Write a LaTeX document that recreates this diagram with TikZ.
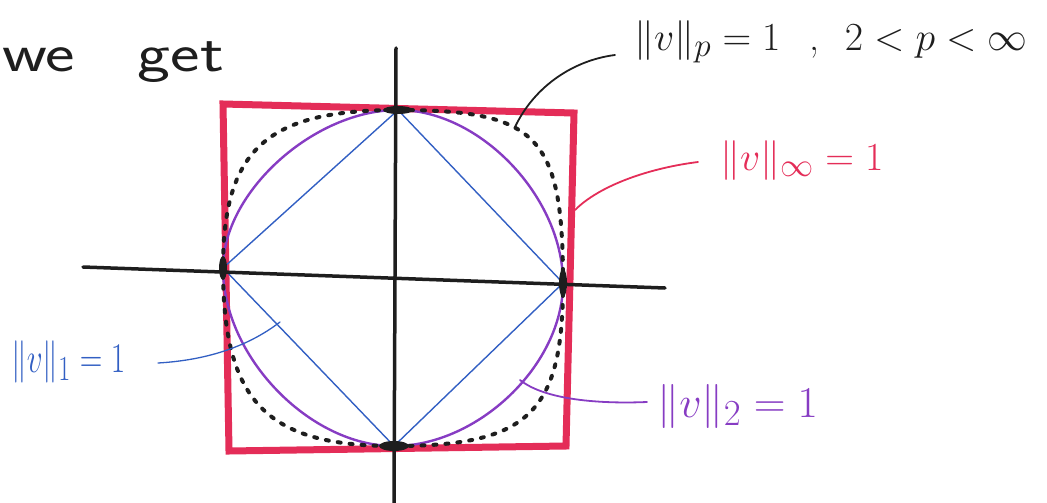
\documentclass[tikz,border=0pt]{standalone}
\usepackage{fontspec}
\definecolor{sqred}{RGB}{228,45,88}
\definecolor{lblue}{RGB}{50,95,195}
\definecolor{lpurple}{RGB}{135,60,195}
\definecolor{ink}{RGB}{30,30,30}
\begin{document}
\begin{tikzpicture}[x=1pt,y=-1pt,
  lbl/.style={anchor=west,inner sep=0pt,font=\Huge},
  leader/.style={line width=1.8pt,line cap=round},
  axis/.style={ink,line width=3.5pt,line cap=round},
  blob/.style={fill=ink,draw=none}]
\useasboundingbox (0,0) rectangle (1047,503);

% red square (infinity norm)
\coordinate (TL) at (223,104);
\coordinate (TR) at (574,113);
\coordinate (BR) at (566,446);
\coordinate (BL) at (229,451);
\draw[sqred,line width=7pt,line join=miter] (TL) -- (TR) -- (BR) -- (BL) -- cycle;

% diamond vertices
\coordinate (T) at (398,110);
\coordinate (R) at (563,283);
\coordinate (B) at (394,446);
\coordinate (L) at (223,268);

% blue diamond (1-norm)
\draw[lblue,line width=1.4pt,line join=miter] (T) -- (R) -- (B) -- (L) -- cycle;

% purple circle (2-norm)
\draw[lpurple,line width=2.4pt]
  (T) .. controls (480,110) and (563,197) .. (R)
      .. controls (563,365) and (478,446) .. (B)
      .. controls (310,446) and (223,357) .. (L)
      .. controls (223,192) and (314,110) .. (T);

% dotted p-norm curve (2<p<infinity)
\draw[ink,line width=4pt,line cap=round,dash pattern=on 3pt off 9pt]
  (T) .. controls (538,110) and (563,136) .. (R)
      .. controls (563,413) and (529,446) .. (B)
      .. controls (266,446) and (223,401) .. (L)
      .. controls (223,149) and (267,110) .. (T);

% axes
\coordinate (xl) at (83,267);
\coordinate (xr) at (665,288);
\coordinate (yt) at (396,48);
\coordinate (yb) at (394,503);
\draw[axis] (xl) -- (xr);
\draw[axis] (yt) -- (yb);

% blobs at the vertices
\fill[blob] (T) ellipse (15pt and 4pt);
\fill[blob] (B) ellipse (15pt and 5pt);
\fill[blob] (R) ellipse (4pt and 14pt);
\fill[blob] (L) ellipse (4pt and 12pt);

% text
\node[anchor=west,inner sep=0pt,ink,font=\fontsize{54}{54}\sffamily,xscale=1.3] (we) at (2,62) {we\hspace{0.9em}get};

\node[lbl,ink,scale=1.6] (plab) at (634,42) {$\|v\|_p = 1$\hspace{18pt},\hspace{16pt}$2<p<\infty$};
\node[lbl,sqred,scale=1.6] (inflab) at (720,161) {$\|v\|_\infty = 1$};
\node[lbl,lblue,scale=1.7,xscale=0.74] (onelab) at (11,362) {$\|v\|_1 = 1$};
\node[lbl,lpurple,scale=1.77] (twolab) at (657,406) {$\|v\|_2 = 1$};

% leaders
\coordinate (ps) at (615,55);  \coordinate (pe) at (515,127);
\coordinate (is) at (698,162); \coordinate (ie) at (575,210);
\coordinate (os) at (158,363); \coordinate (oe) at (280,322);
\coordinate (ts) at (647,402); \coordinate (te) at (520,380);
\draw[leader,ink] (ps) .. controls (575,60) and (535,85) .. (pe);
\draw[leader,sqred] (is) .. controls (650,168) and (600,185) .. (ie);
\draw[leader,lblue,line width=1.3pt] (os) .. controls (210,360) and (250,345) .. (oe);
\draw[leader,lpurple] (ts) .. controls (600,404) and (545,400) .. (te);
\end{tikzpicture}
\end{document}
